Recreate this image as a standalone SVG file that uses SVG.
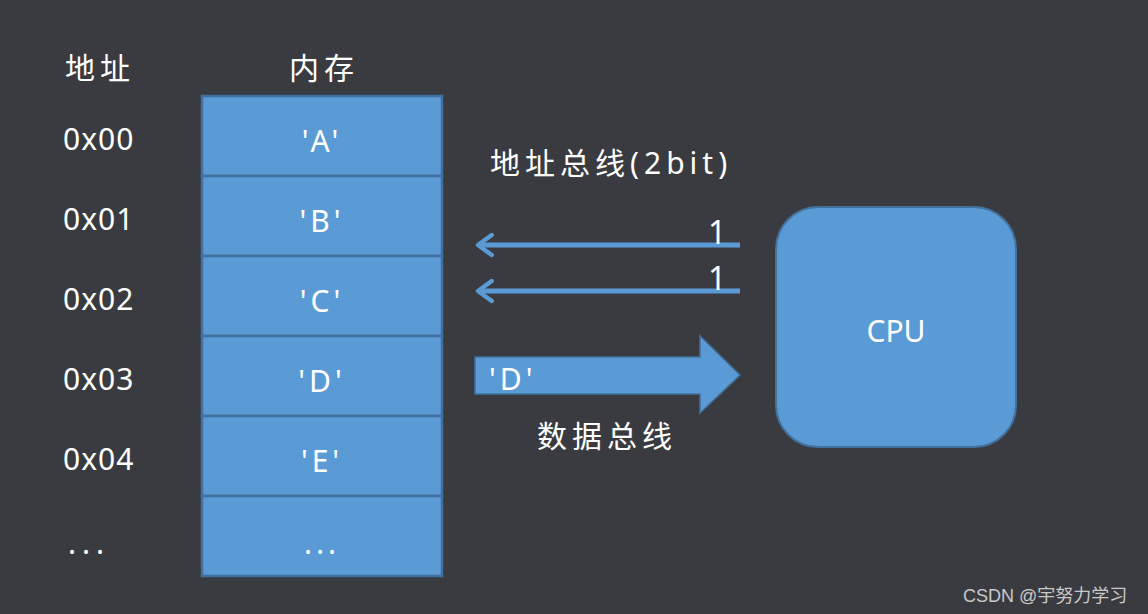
<svg xmlns="http://www.w3.org/2000/svg" width="1148" height="614" viewBox="0 0 1148 614">
<defs>
<style>
.cell{fill:#5b9bd5;stroke:#41719c;stroke-width:2.5}
.t{fill:#ffffff;font-family:"Noto Sans","DejaVu Sans","Noto Sans CJK SC",sans-serif}
.cjk{fill:#ffffff;font-family:"Noto Sans CJK SC","Noto Sans CJK JP",sans-serif;font-size:30px;letter-spacing:5px}
.addr{font-size:30px;letter-spacing:1px}
.val{font-size:30px;text-anchor:middle;letter-spacing:4px}
.bus{stroke:#5b9bd5;stroke-width:5;fill:none}
</style>
<marker id="chev" viewBox="0 0 20 20" refX="17" refY="10" markerWidth="5" markerHeight="5" markerUnits="strokeWidth" orient="auto">
<path d="M6,2 L17,10 L6,18" fill="none" stroke="#5b9bd5" stroke-width="3.5" stroke-linecap="round" stroke-linejoin="round"/>
</marker>
</defs>
<rect width="1148" height="614" fill="#3a3b40"/>
<g id="headers">
<text class="cjk" x="100" y="79" text-anchor="middle">地址</text>
<text class="cjk" x="324" y="79" text-anchor="middle" letter-spacing="8">内存</text>
</g>
<g id="addresses" class="t addr">
<text x="63" y="150">0x00</text>
<text x="63" y="230">0x01</text>
<text x="63" y="310">0x02</text>
<text x="63" y="390">0x03</text>
<text x="63" y="470">0x04</text>
<text x="68" y="554" letter-spacing="6">...</text>
</g>
<g id="memory">
<g id="cell0"><rect class="cell" x="202" y="96" width="240" height="80"/><text class="t val" x="322" y="152">'A'</text></g>
<g id="cell1"><rect class="cell" x="202" y="176" width="240" height="80"/><text class="t val" x="322" y="232">'B'</text></g>
<g id="cell2"><rect class="cell" x="202" y="256" width="240" height="80"/><text class="t val" x="322" y="312">'C'</text></g>
<g id="cell3"><rect class="cell" x="202" y="336" width="240" height="80"/><text class="t val" x="322" y="392">'D'</text></g>
<g id="cell4"><rect class="cell" x="202" y="416" width="240" height="80"/><text class="t val" x="322" y="472">'E'</text></g>
<g id="cell5"><rect class="cell" x="202" y="496" width="240" height="80"/><text class="t val" x="322" y="554" letter-spacing="6">...</text></g>
</g>
<g id="cpu">
<rect x="776" y="207" width="240" height="240" rx="42" fill="#5b9bd5" stroke="#41719c" stroke-width="2"/>
<text class="t" x="896" y="342" font-size="30" text-anchor="middle">CPU</text>
</g>
<g id="connectors">
<line class="bus" x1="740" y1="245" x2="478" y2="245" marker-end="url(#chev)"/>
<line class="bus" x1="740" y1="291" x2="478" y2="291" marker-end="url(#chev)"/>
<path d="M475,357 H700 V336 L740,375 L700,413 V394 H475 Z" fill="#5b9bd5" stroke="#41719c" stroke-width="1.5"/>
</g>
<g id="labels">
<text class="cjk" x="490" y="174">地址总线<tspan class="t">(2bit)</tspan></text>
<text class="t" x="708" y="244" font-size="32">1</text>
<text class="t" x="708" y="290" font-size="32">1</text>
<text class="t" x="489" y="390" font-size="30" letter-spacing="4">'D'</text>
<text class="cjk" x="537" y="447">数据总线</text>
</g>
<text x="963" y="602" font-family="'Liberation Sans','Noto Sans CJK SC',sans-serif" font-size="18" fill="#c9c9c9">CSDN @宇努力学习</text>
</svg>
